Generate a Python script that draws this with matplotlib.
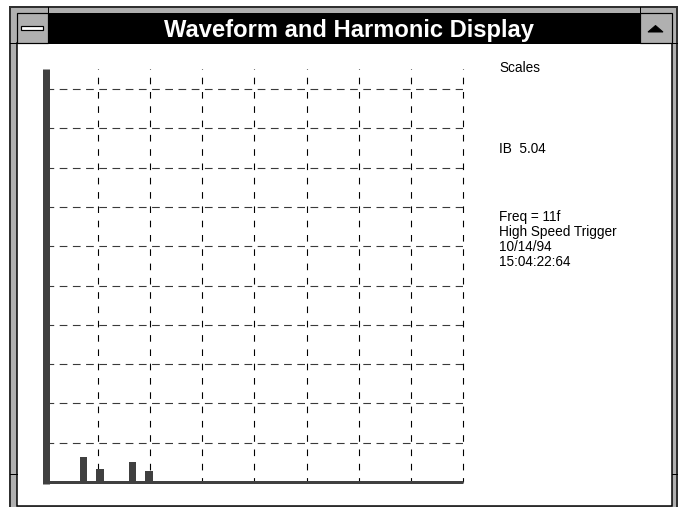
import matplotlib
matplotlib.use('Agg')
import matplotlib.pyplot as plt
from matplotlib.patches import Rectangle, Polygon

# harmonic bars (grid units)
bar_x = [0.73, 1.04, 1.67, 1.98]
bar_h = [0.63, 0.34, 0.50, 0.28]

x_ticks = [1, 2, 3, 4, 5, 6, 7, 8]
y_ticks = [1, 2, 3, 4, 5, 6, 7, 8, 9, 10]

title = "Waveform and Harmonic Display"
info_lines = ["Scales", "IB  5.04", "Freq = 11f", "High Speed Trigger", "10/14/94", "15:04:22:64"]
info_base = [72, 153, 221, 236, 251, 266]

W, H = 681, 507
GRAY = '#b0b0b0'
DARK = '#404040'

fig = plt.figure(figsize=(W / 100, H / 100), dpi=100, facecolor='white')

# window chrome, drawn in pixel coordinates
bg = fig.add_axes([0, 0, 1, 1], zorder=0)
bg.set_xlim(0, W)
bg.set_ylim(H, 0)
bg.axis('off')

px = 0.72  # one pixel in points
bg.add_patch(Rectangle((10, 7), 667, 505, facecolor=GRAY, edgecolor='#303030', lw=2 * px))
bg.add_patch(Rectangle((16.5, 43), 655, 463, facecolor='white', edgecolor='black', lw=1.5 * px))
bg.add_patch(Rectangle((48, 13), 592, 30, facecolor='black', edgecolor='black', lw=px))
# buttons
bg.add_patch(Rectangle((16.5, 13), 31.5, 30, facecolor=GRAY, edgecolor='black', lw=1.2 * px))
bg.add_patch(Rectangle((21, 25.5), 22, 4, facecolor='white', edgecolor='black', lw=1.2 * px))
bg.add_patch(Rectangle((640, 13), 31.5, 30, facecolor=GRAY, edgecolor='black', lw=1.2 * px))
bg.add_patch(Polygon([(648, 32), (663, 32), (655.5, 25.5)], closed=True, facecolor='black', edgecolor='black', lw=px))
# resize-corner marks on the frame
for xx in (48, 640):
    bg.plot([xx, xx], [7, 13], color='black', lw=px)
for yy in (43, 474):
    bg.plot([10, 16.5], [yy, yy], color='black', lw=px)
    bg.plot([671.5, 677], [yy, yy], color='black', lw=px)

bg.text(349.5, 36.5, title, color='white', fontsize=17.1, fontweight='bold',
        family='Liberation Sans', ha='center', va='baseline')

for txt, yb in zip(info_lines, info_base):
    bg.text(499, yb, txt, color='black', fontsize=9.8, family='Liberation Sans',
            ha='left', va='baseline')

# harmonic plot
ax = fig.add_axes([45.5 / W, (H - 482.1) / H, 417.8 / W, 412.8 / H], zorder=1)
ax.set_facecolor('none')
ax.set_xlim(0, 8)
ax.set_ylim(0, 10.5)
ax.set_xticks(x_ticks)
ax.set_yticks(y_ticks)
ax.tick_params(length=0, labelbottom=False, labelleft=False)

ax.grid(axis='x', color='black', lw=px * 1.1, linestyle=(2, (6, 7)))
ax.grid(axis='y', color='#3a3a3a', lw=px * 1.1, linestyle=(0, (7, 5)))
ax.set_axisbelow(True)
for gl in ax.get_xgridlines():
    gl.set_clip_on(False)

ax.bar(bar_x, bar_h, width=0.144, color=DARK, zorder=3)

ax.spines['top'].set_visible(False)
ax.spines['right'].set_visible(False)
ax.spines['left'].set_linewidth(7 * px)
ax.spines['left'].set_color(DARK)
ax.spines['left'].set_capstyle('butt')
ax.spines['left'].set_bounds(-0.06, 10.5)
ax.spines['bottom'].set_linewidth(3 * px)
ax.spines['bottom'].set_color(DARK)
ax.spines['bottom'].set_capstyle('butt')

fig.savefig('out.png', dpi=100)
